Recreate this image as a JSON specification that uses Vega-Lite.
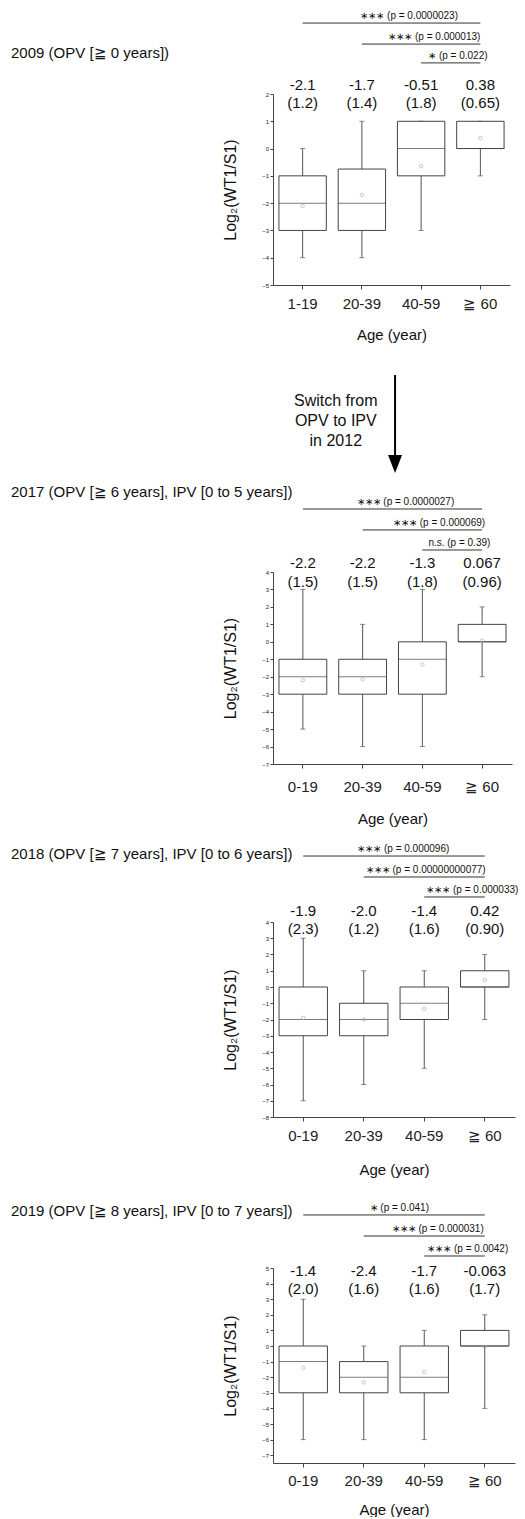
{
"$schema": "https://vega.github.io/schema/vega-lite/v6.json",
"background": "white",
"padding": {"left": 11, "top": 11, "right": 0, "bottom": 0},
"config": {
  "font": "Liberation Sans",
  "view": {"stroke": null},
  "axis": {"grid": false, "domainColor": "#444", "tickColor": "#444", "labelColor": "#222", "titleColor": "#111", "labelFont": "Liberation Sans", "titleFont": "Liberation Sans", "titleFontWeight": "normal"},
  "axisX": {"labelFontSize": 15, "tickSize": 4, "titleFontSize": 15, "labelAngle": 0},
  "axisY": {"labelFontSize": 6, "tickSize": 3, "labelPadding": 1.5, "titleFontSize": 16, "titlePadding": 23, "labelOverlap": false, "labelFlush": false},
  "title": {"anchor": "start", "frame": "group", "orient": "top", "offset": 0, "baseline": "middle", "fontSize": 15, "fontWeight": "normal", "font": "Liberation Sans", "color": "#111"}
},
"datasets": {
  "b09": [
    {"age": "1-19", "lower": -4, "q1": -3, "median": -2, "q3": -1, "upper": 0, "mean": -2.1, "mean_text": "-2.1", "sd_text": "(1.2)"},
    {"age": "20-39", "lower": -4, "q1": -3, "median": -2, "q3": -0.75, "upper": 1, "mean": -1.7, "mean_text": "-1.7", "sd_text": "(1.4)"},
    {"age": "40-59", "lower": -3, "q1": -1, "median": 0, "q3": 1, "upper": 1, "mean": -0.64, "mean_text": "-0.51", "sd_text": "(1.8)"},
    {"age": "≧ 60", "lower": -1, "q1": 0, "median": 0, "q3": 1, "upper": 1, "mean": 0.38, "mean_text": "0.38", "sd_text": "(0.65)"}
  ],
  "b17": [
    {"age": "0-19", "lower": -5, "q1": -3, "median": -2, "q3": -1, "upper": 3, "mean": -2.2, "mean_text": "-2.2", "sd_text": "(1.5)"},
    {"age": "20-39", "lower": -6, "q1": -3, "median": -2, "q3": -1, "upper": 1, "mean": -2.15, "mean_text": "-2.2", "sd_text": "(1.5)"},
    {"age": "40-59", "lower": -6, "q1": -3, "median": -1, "q3": 0, "upper": 3, "mean": -1.3, "mean_text": "-1.3", "sd_text": "(1.8)"},
    {"age": "≧ 60", "lower": -2, "q1": 0, "median": 0, "q3": 1, "upper": 2, "mean": 0.067, "mean_text": "0.067", "sd_text": "(0.96)"}
  ],
  "b18": [
    {"age": "0-19", "lower": -7, "q1": -3, "median": -2, "q3": 0, "upper": 3, "mean": -1.9, "mean_text": "-1.9", "sd_text": "(2.3)"},
    {"age": "20-39", "lower": -6, "q1": -3, "median": -2, "q3": -1, "upper": 1, "mean": -2.0, "mean_text": "-2.0", "sd_text": "(1.2)"},
    {"age": "40-59", "lower": -5, "q1": -2, "median": -1, "q3": 0, "upper": 1, "mean": -1.35, "mean_text": "-1.4", "sd_text": "(1.6)"},
    {"age": "≧ 60", "lower": -2, "q1": 0, "median": 0, "q3": 1, "upper": 2, "mean": 0.42, "mean_text": "0.42", "sd_text": "(0.90)"}
  ],
  "b19": [
    {"age": "0-19", "lower": -6, "q1": -3, "median": -1, "q3": 0, "upper": 3, "mean": -1.4, "mean_text": "-1.4", "sd_text": "(2.0)"},
    {"age": "20-39", "lower": -6, "q1": -3, "median": -2, "q3": -1, "upper": 0, "mean": -2.33, "mean_text": "-2.4", "sd_text": "(1.6)"},
    {"age": "40-59", "lower": -6, "q1": -3, "median": -2, "q3": 0, "upper": 1, "mean": -1.65, "mean_text": "-1.7", "sd_text": "(1.6)"},
    {"age": "≧ 60", "lower": -4, "q1": 0, "median": 0, "q3": 1, "upper": 2, "mean": -0.063, "mean_text": "-0.063", "sd_text": "(1.7)"}
  ],
  "r09": [
    {"age": "1-19", "to": "≧ 60", "level": 1, "label": "∗∗∗  (p = 0.0000023)"},
    {"age": "20-39", "to": "≧ 60", "level": 2, "label": "∗∗∗  (p = 0.000013)"},
    {"age": "40-59", "to": "≧ 60", "level": 3, "label": "∗ (p = 0.022)"}
  ],
  "r17": [
    {"age": "0-19", "to": "≧ 60", "level": 1, "label": "∗∗∗  (p = 0.0000027)"},
    {"age": "20-39", "to": "≧ 60", "level": 2, "label": "∗∗∗ (p = 0.000069)"},
    {"age": "40-59", "to": "≧ 60", "level": 3, "label": "n.s. (p = 0.39)"}
  ],
  "r18": [
    {"age": "0-19", "to": "≧ 60", "level": 1, "label": "∗∗∗  (p = 0.000096)"},
    {"age": "20-39", "to": "≧ 60", "level": 2, "label": "∗∗∗  (p = 0.00000000077)"},
    {"age": "40-59", "to": "≧ 60", "level": 3, "label": "∗∗∗ (p = 0.000033)"}
  ],
  "r19": [
    {"age": "0-19", "to": "≧ 60", "level": 1, "label": "∗  (p = 0.041)"},
    {"age": "20-39", "to": "≧ 60", "level": 2, "label": "∗∗∗  (p = 0.000031)"},
    {"age": "40-59", "to": "≧ 60", "level": 3, "label": "∗∗∗  (p = 0.0042)"}
  ],
  "one": [{}]
},
"vconcat": [
 {
  "spacing": 25,
  "vconcat": [
   {
    "spacing": 18,
    "vconcat": [
     {
      "spacing": 10,
      "vconcat": [
       {
        "width": 237, "height": 191,
        "title": {"text": "2009 (OPV [≧ 0 years])", "dx": -262, "dy": 54},
        "layer": [
         {"data": {"name": "b09"}, "mark": {"type": "rule", "color": "#555"},
          "encoding": {
            "x": {"field": "age", "type": "nominal", "scale": {"domain": ["1-19", "20-39", "40-59", "≧ 60"], "paddingInner": 0, "paddingOuter": 0}, "axis": {"title": "Age (year)", "labelPadding": 7.5, "titlePadding": 15.5}},
            "y": {"field": "lower", "type": "quantitative", "scale": {"domain": [-5, 2], "nice": false, "zero": false}, "axis": {"title": "Log₂(WT1/S1)", "values": [-5, -4, -3, -2, -1, 0, 1, 2], "tickCount": 30, "format": "d", "labelOverlap": false}},
            "y2": {"field": "upper"}}},
         {"data": {"name": "b09"}, "mark": {"type": "bar", "fill": "white", "stroke": "#444", "strokeWidth": 1, "width": {"band": 0.8}},
          "encoding": {
            "x": {"field": "age", "type": "nominal", "scale": {"domain": ["1-19", "20-39", "40-59", "≧ 60"], "paddingInner": 0, "paddingOuter": 0}},
            "y": {"field": "q1", "type": "quantitative", "scale": {"domain": [-5, 2], "nice": false, "zero": false}},
            "y2": {"field": "q3"}}},
         {"data": {"name": "b09"}, "mark": {"type": "tick", "color": "#444", "thickness": 1, "size": 48},
          "encoding": {
            "x": {"field": "age", "type": "nominal", "scale": {"domain": ["1-19", "20-39", "40-59", "≧ 60"], "paddingInner": 0, "paddingOuter": 0}},
            "y": {"field": "median", "type": "quantitative", "scale": {"domain": [-5, 2], "nice": false, "zero": false}}}},
         {"data": {"name": "b09"}, "mark": {"type": "tick", "color": "#555", "thickness": 1, "size": 5},
          "encoding": {
            "x": {"field": "age", "type": "nominal", "scale": {"domain": ["1-19", "20-39", "40-59", "≧ 60"], "paddingInner": 0, "paddingOuter": 0}},
            "y": {"field": "lower", "type": "quantitative", "scale": {"domain": [-5, 2], "nice": false, "zero": false}}}},
         {"data": {"name": "b09"}, "mark": {"type": "tick", "color": "#555", "thickness": 1, "size": 5},
          "encoding": {
            "x": {"field": "age", "type": "nominal", "scale": {"domain": ["1-19", "20-39", "40-59", "≧ 60"], "paddingInner": 0, "paddingOuter": 0}},
            "y": {"field": "upper", "type": "quantitative", "scale": {"domain": [-5, 2], "nice": false, "zero": false}}}},
         {"data": {"name": "b09"}, "mark": {"type": "point", "shape": "circle", "size": 12, "color": "#b0b0b0", "filled": false, "strokeWidth": 1},
          "encoding": {
            "x": {"field": "age", "type": "nominal", "scale": {"domain": ["1-19", "20-39", "40-59", "≧ 60"], "paddingInner": 0, "paddingOuter": 0}},
            "y": {"field": "mean", "type": "quantitative", "scale": {"domain": [-5, 2], "nice": false, "zero": false}}}},
         {"data": {"name": "b09"}, "mark": {"type": "text", "fontSize": 15, "baseline": "middle", "color": "#111"},
          "encoding": {
            "x": {"field": "age", "type": "nominal", "scale": {"domain": ["1-19", "20-39", "40-59", "≧ 60"], "paddingInner": 0, "paddingOuter": 0}},
            "y": {"datum": 2.33, "type": "quantitative", "scale": {"domain": [-5, 2], "nice": false, "zero": false}},
            "text": {"field": "mean_text"}}},
         {"data": {"name": "b09"}, "mark": {"type": "text", "fontSize": 15, "baseline": "middle", "color": "#111"},
          "encoding": {
            "x": {"field": "age", "type": "nominal", "scale": {"domain": ["1-19", "20-39", "40-59", "≧ 60"], "paddingInner": 0, "paddingOuter": 0}},
            "y": {"datum": 1.67, "type": "quantitative", "scale": {"domain": [-5, 2], "nice": false, "zero": false}},
            "text": {"field": "sd_text"}}},
         {"data": {"name": "r09"}, "transform": [{"filter": "datum.level == 1"}], "mark": {"type": "rule", "color": "#333"},
          "encoding": {
            "x": {"field": "age", "type": "nominal", "scale": {"domain": ["1-19", "20-39", "40-59", "≧ 60"], "paddingInner": 0, "paddingOuter": 0}},
            "x2": {"field": "to"},
            "y": {"datum": 4.60, "type": "quantitative", "scale": {"domain": [-5, 2], "nice": false, "zero": false}}}},
         {"data": {"name": "r09"}, "transform": [{"filter": "datum.level == 2"}], "mark": {"type": "rule", "color": "#333"},
          "encoding": {
            "x": {"field": "age", "type": "nominal", "scale": {"domain": ["1-19", "20-39", "40-59", "≧ 60"], "paddingInner": 0, "paddingOuter": 0}},
            "x2": {"field": "to"},
            "y": {"datum": 3.83, "type": "quantitative", "scale": {"domain": [-5, 2], "nice": false, "zero": false}}}},
         {"data": {"name": "r09"}, "transform": [{"filter": "datum.level == 3"}], "mark": {"type": "rule", "color": "#333"},
          "encoding": {
            "x": {"field": "age", "type": "nominal", "scale": {"domain": ["1-19", "20-39", "40-59", "≧ 60"], "paddingInner": 0, "paddingOuter": 0}},
            "x2": {"field": "to"},
            "y": {"datum": 3.14, "type": "quantitative", "scale": {"domain": [-5, 2], "nice": false, "zero": false}}}},
         {"data": {"name": "r09"}, "transform": [{"filter": "datum.level == 1"}], "mark": {"type": "text", "fontSize": 10, "align": "center", "baseline": "alphabetic", "dy": -4, "dx": -12, "color": "#111"},
          "encoding": {
            "x": {"datum": "40-59", "type": "nominal", "scale": {"domain": ["1-19", "20-39", "40-59", "≧ 60"], "paddingInner": 0, "paddingOuter": 0}},
            "y": {"datum": 4.60, "type": "quantitative", "scale": {"domain": [-5, 2], "nice": false, "zero": false}},
            "text": {"field": "label"}}},
         {"data": {"name": "r09"}, "transform": [{"filter": "datum.level == 2"}], "mark": {"type": "text", "fontSize": 10, "align": "right", "baseline": "alphabetic", "dy": -4, "dx": 0, "color": "#111"},
          "encoding": {
            "x": {"field": "to", "type": "nominal", "scale": {"domain": ["1-19", "20-39", "40-59", "≧ 60"], "paddingInner": 0, "paddingOuter": 0}},
            "y": {"datum": 3.83, "type": "quantitative", "scale": {"domain": [-5, 2], "nice": false, "zero": false}},
            "text": {"field": "label"}}},
         {"data": {"name": "r09"}, "transform": [{"filter": "datum.level == 3"}], "mark": {"type": "text", "fontSize": 10, "align": "left", "baseline": "alphabetic", "dy": -4, "dx": 7, "color": "#111"},
          "encoding": {
            "x": {"field": "age", "type": "nominal", "scale": {"domain": ["1-19", "20-39", "40-59", "≧ 60"], "paddingInner": 0, "paddingOuter": 0}},
            "y": {"datum": 3.14, "type": "quantitative", "scale": {"domain": [-5, 2], "nice": false, "zero": false}},
            "text": {"field": "label"}}},
         {"data": {"name": "one"}, "mark": {"type": "rule", "color": "#000", "strokeWidth": 2},
          "encoding": {
            "x": {"datum": "40-59", "type": "nominal", "bandPosition": 0.06, "scale": {"domain": ["1-19", "20-39", "40-59", "≧ 60"], "paddingInner": 0, "paddingOuter": 0}},
            "y": {"datum": -8.30, "type": "quantitative", "scale": {"domain": [-5, 2], "nice": false, "zero": false}},
            "y2": {"datum": -11.3}}},
         {"data": {"name": "one"}, "mark": {"type": "point", "shape": "M-1,-1.29L1,-1.29L0,1.29Z", "filled": true, "color": "#000", "opacity": 1, "size": 196},
          "encoding": {
            "x": {"datum": "40-59", "type": "nominal", "bandPosition": 0.06, "scale": {"domain": ["1-19", "20-39", "40-59", "≧ 60"], "paddingInner": 0, "paddingOuter": 0}},
            "y": {"datum": -11.56, "type": "quantitative", "scale": {"domain": [-5, 2], "nice": false, "zero": false}}}},
         {"data": {"name": "one"}, "mark": {"type": "text", "text": ["Switch from", "OPV to IPV", "in 2012"], "fontSize": 16, "lineHeight": 20, "align": "center", "baseline": "middle", "color": "#111"},
          "encoding": {
            "x": {"datum": "20-39", "type": "nominal", "bandPosition": 0.06, "scale": {"domain": ["1-19", "20-39", "40-59", "≧ 60"], "paddingInner": 0, "paddingOuter": 0}},
            "y": {"datum": -9.25, "type": "quantitative", "scale": {"domain": [-5, 2], "nice": false, "zero": false}}}}
        ]
       },
       {
        "width": 239, "height": 192,
        "title": {"text": "2017 (OPV [≧ 6 years], IPV [0 to 5 years])", "dx": -262, "dy": 7},
        "layer": [
         {"data": {"name": "b17"}, "mark": {"type": "rule", "color": "#555"},
          "encoding": {
            "x": {"field": "age", "type": "nominal", "scale": {"domain": ["0-19", "20-39", "40-59", "≧ 60"], "paddingInner": 0, "paddingOuter": 0}, "axis": {"title": "Age (year)", "labelPadding": 11.5, "titlePadding": 16.5}},
            "y": {"field": "lower", "type": "quantitative", "scale": {"domain": [-7, 4], "nice": false, "zero": false}, "axis": {"title": "Log₂(WT1/S1)", "values": [-7, -6, -5, -4, -3, -2, -1, 0, 1, 2, 3, 4], "tickCount": 30, "format": "d", "labelOverlap": false}},
            "y2": {"field": "upper"}}},
         {"data": {"name": "b17"}, "mark": {"type": "bar", "fill": "white", "stroke": "#444", "strokeWidth": 1, "width": {"band": 0.8}},
          "encoding": {
            "x": {"field": "age", "type": "nominal", "scale": {"domain": ["0-19", "20-39", "40-59", "≧ 60"], "paddingInner": 0, "paddingOuter": 0}},
            "y": {"field": "q1", "type": "quantitative", "scale": {"domain": [-7, 4], "nice": false, "zero": false}},
            "y2": {"field": "q3"}}},
         {"data": {"name": "b17"}, "mark": {"type": "tick", "color": "#444", "thickness": 1, "size": 48},
          "encoding": {
            "x": {"field": "age", "type": "nominal", "scale": {"domain": ["0-19", "20-39", "40-59", "≧ 60"], "paddingInner": 0, "paddingOuter": 0}},
            "y": {"field": "median", "type": "quantitative", "scale": {"domain": [-7, 4], "nice": false, "zero": false}}}},
         {"data": {"name": "b17"}, "mark": {"type": "tick", "color": "#555", "thickness": 1, "size": 5},
          "encoding": {
            "x": {"field": "age", "type": "nominal", "scale": {"domain": ["0-19", "20-39", "40-59", "≧ 60"], "paddingInner": 0, "paddingOuter": 0}},
            "y": {"field": "lower", "type": "quantitative", "scale": {"domain": [-7, 4], "nice": false, "zero": false}}}},
         {"data": {"name": "b17"}, "mark": {"type": "tick", "color": "#555", "thickness": 1, "size": 5},
          "encoding": {
            "x": {"field": "age", "type": "nominal", "scale": {"domain": ["0-19", "20-39", "40-59", "≧ 60"], "paddingInner": 0, "paddingOuter": 0}},
            "y": {"field": "upper", "type": "quantitative", "scale": {"domain": [-7, 4], "nice": false, "zero": false}}}},
         {"data": {"name": "b17"}, "mark": {"type": "point", "shape": "circle", "size": 12, "color": "#b0b0b0", "filled": false, "strokeWidth": 1},
          "encoding": {
            "x": {"field": "age", "type": "nominal", "scale": {"domain": ["0-19", "20-39", "40-59", "≧ 60"], "paddingInner": 0, "paddingOuter": 0}},
            "y": {"field": "mean", "type": "quantitative", "scale": {"domain": [-7, 4], "nice": false, "zero": false}}}},
         {"data": {"name": "b17"}, "mark": {"type": "text", "fontSize": 15, "baseline": "middle", "color": "#111"},
          "encoding": {
            "x": {"field": "age", "type": "nominal", "scale": {"domain": ["0-19", "20-39", "40-59", "≧ 60"], "paddingInner": 0, "paddingOuter": 0}},
            "y": {"datum": 4.5, "type": "quantitative", "scale": {"domain": [-7, 4], "nice": false, "zero": false}},
            "text": {"field": "mean_text"}}},
         {"data": {"name": "b17"}, "mark": {"type": "text", "fontSize": 15, "baseline": "middle", "color": "#111"},
          "encoding": {
            "x": {"field": "age", "type": "nominal", "scale": {"domain": ["0-19", "20-39", "40-59", "≧ 60"], "paddingInner": 0, "paddingOuter": 0}},
            "y": {"datum": 3.43, "type": "quantitative", "scale": {"domain": [-7, 4], "nice": false, "zero": false}},
            "text": {"field": "sd_text"}}},
         {"data": {"name": "r17"}, "transform": [{"filter": "datum.level == 1"}], "mark": {"type": "rule", "color": "#333"},
          "encoding": {
            "x": {"field": "age", "type": "nominal", "scale": {"domain": ["0-19", "20-39", "40-59", "≧ 60"], "paddingInner": 0, "paddingOuter": 0}},
            "x2": {"field": "to"},
            "y": {"datum": 7.61, "type": "quantitative", "scale": {"domain": [-7, 4], "nice": false, "zero": false}}}},
         {"data": {"name": "r17"}, "transform": [{"filter": "datum.level == 2"}], "mark": {"type": "rule", "color": "#333"},
          "encoding": {
            "x": {"field": "age", "type": "nominal", "scale": {"domain": ["0-19", "20-39", "40-59", "≧ 60"], "paddingInner": 0, "paddingOuter": 0}},
            "x2": {"field": "to"},
            "y": {"datum": 6.41, "type": "quantitative", "scale": {"domain": [-7, 4], "nice": false, "zero": false}}}},
         {"data": {"name": "r17"}, "transform": [{"filter": "datum.level == 3"}], "mark": {"type": "rule", "color": "#333"},
          "encoding": {
            "x": {"field": "age", "type": "nominal", "scale": {"domain": ["0-19", "20-39", "40-59", "≧ 60"], "paddingInner": 0, "paddingOuter": 0}},
            "x2": {"field": "to"},
            "y": {"datum": 5.26, "type": "quantitative", "scale": {"domain": [-7, 4], "nice": false, "zero": false}}}},
         {"data": {"name": "r17"}, "transform": [{"filter": "datum.level == 1"}], "mark": {"type": "text", "fontSize": 10, "align": "center", "baseline": "alphabetic", "dy": -4, "dx": -17, "color": "#111"},
          "encoding": {
            "x": {"datum": "40-59", "type": "nominal", "scale": {"domain": ["0-19", "20-39", "40-59", "≧ 60"], "paddingInner": 0, "paddingOuter": 0}},
            "y": {"datum": 7.61, "type": "quantitative", "scale": {"domain": [-7, 4], "nice": false, "zero": false}},
            "text": {"field": "label"}}},
         {"data": {"name": "r17"}, "transform": [{"filter": "datum.level == 2"}], "mark": {"type": "text", "fontSize": 10, "align": "right", "baseline": "alphabetic", "dy": -4, "dx": 3, "color": "#111"},
          "encoding": {
            "x": {"field": "to", "type": "nominal", "scale": {"domain": ["0-19", "20-39", "40-59", "≧ 60"], "paddingInner": 0, "paddingOuter": 0}},
            "y": {"datum": 6.41, "type": "quantitative", "scale": {"domain": [-7, 4], "nice": false, "zero": false}},
            "text": {"field": "label"}}},
         {"data": {"name": "r17"}, "transform": [{"filter": "datum.level == 3"}], "mark": {"type": "text", "fontSize": 10, "align": "left", "baseline": "alphabetic", "dy": -4, "dx": 6, "color": "#111"},
          "encoding": {
            "x": {"field": "age", "type": "nominal", "scale": {"domain": ["0-19", "20-39", "40-59", "≧ 60"], "paddingInner": 0, "paddingOuter": 0}},
            "y": {"datum": 5.26, "type": "quantitative", "scale": {"domain": [-7, 4], "nice": false, "zero": false}},
            "text": {"field": "label"}}}
        ]
       }
      ]
     },
     {
      "width": 242, "height": 195,
      "title": {"text": "2018 (OPV [≧ 7 years], IPV [0 to 6 years])", "dx": -262, "dy": 22},
      "layer": [
       {"data": {"name": "b18"}, "mark": {"type": "rule", "color": "#555"},
        "encoding": {
          "x": {"field": "age", "type": "nominal", "scale": {"domain": ["0-19", "20-39", "40-59", "≧ 60"], "paddingInner": 0, "paddingOuter": 0}, "axis": {"title": "Age (year)", "labelPadding": 7.5, "titlePadding": 18.5}},
          "y": {"field": "lower", "type": "quantitative", "scale": {"domain": [-8, 4], "nice": false, "zero": false}, "axis": {"title": "Log₂(WT1/S1)", "values": [-8, -7, -6, -5, -4, -3, -2, -1, 0, 1, 2, 3, 4], "tickCount": 30, "format": "d", "labelOverlap": false}},
          "y2": {"field": "upper"}}},
       {"data": {"name": "b18"}, "mark": {"type": "bar", "fill": "white", "stroke": "#444", "strokeWidth": 1, "width": {"band": 0.8}},
        "encoding": {
          "x": {"field": "age", "type": "nominal", "scale": {"domain": ["0-19", "20-39", "40-59", "≧ 60"], "paddingInner": 0, "paddingOuter": 0}},
          "y": {"field": "q1", "type": "quantitative", "scale": {"domain": [-8, 4], "nice": false, "zero": false}},
          "y2": {"field": "q3"}}},
       {"data": {"name": "b18"}, "mark": {"type": "tick", "color": "#444", "thickness": 1, "size": 48},
        "encoding": {
          "x": {"field": "age", "type": "nominal", "scale": {"domain": ["0-19", "20-39", "40-59", "≧ 60"], "paddingInner": 0, "paddingOuter": 0}},
          "y": {"field": "median", "type": "quantitative", "scale": {"domain": [-8, 4], "nice": false, "zero": false}}}},
       {"data": {"name": "b18"}, "mark": {"type": "tick", "color": "#555", "thickness": 1, "size": 5},
        "encoding": {
          "x": {"field": "age", "type": "nominal", "scale": {"domain": ["0-19", "20-39", "40-59", "≧ 60"], "paddingInner": 0, "paddingOuter": 0}},
          "y": {"field": "lower", "type": "quantitative", "scale": {"domain": [-8, 4], "nice": false, "zero": false}}}},
       {"data": {"name": "b18"}, "mark": {"type": "tick", "color": "#555", "thickness": 1, "size": 5},
        "encoding": {
          "x": {"field": "age", "type": "nominal", "scale": {"domain": ["0-19", "20-39", "40-59", "≧ 60"], "paddingInner": 0, "paddingOuter": 0}},
          "y": {"field": "upper", "type": "quantitative", "scale": {"domain": [-8, 4], "nice": false, "zero": false}}}},
       {"data": {"name": "b18"}, "mark": {"type": "point", "shape": "circle", "size": 12, "color": "#b0b0b0", "filled": false, "strokeWidth": 1},
        "encoding": {
          "x": {"field": "age", "type": "nominal", "scale": {"domain": ["0-19", "20-39", "40-59", "≧ 60"], "paddingInner": 0, "paddingOuter": 0}},
          "y": {"field": "mean", "type": "quantitative", "scale": {"domain": [-8, 4], "nice": false, "zero": false}}}},
       {"data": {"name": "b18"}, "mark": {"type": "text", "fontSize": 15, "baseline": "middle", "color": "#111"},
        "encoding": {
          "x": {"field": "age", "type": "nominal", "scale": {"domain": ["0-19", "20-39", "40-59", "≧ 60"], "paddingInner": 0, "paddingOuter": 0}},
          "y": {"datum": 4.68, "type": "quantitative", "scale": {"domain": [-8, 4], "nice": false, "zero": false}},
          "text": {"field": "mean_text"}}},
       {"data": {"name": "b18"}, "mark": {"type": "text", "fontSize": 15, "baseline": "middle", "color": "#111"},
        "encoding": {
          "x": {"field": "age", "type": "nominal", "scale": {"domain": ["0-19", "20-39", "40-59", "≧ 60"], "paddingInner": 0, "paddingOuter": 0}},
          "y": {"datum": 3.57, "type": "quantitative", "scale": {"domain": [-8, 4], "nice": false, "zero": false}},
          "text": {"field": "sd_text"}}},
       {"data": {"name": "r18"}, "transform": [{"filter": "datum.level == 1"}], "mark": {"type": "rule", "color": "#333"},
        "encoding": {
          "x": {"field": "age", "type": "nominal", "scale": {"domain": ["0-19", "20-39", "40-59", "≧ 60"], "paddingInner": 0, "paddingOuter": 0}},
          "x2": {"field": "to"},
          "y": {"datum": 8.06, "type": "quantitative", "scale": {"domain": [-8, 4], "nice": false, "zero": false}}}},
       {"data": {"name": "r18"}, "transform": [{"filter": "datum.level == 2"}], "mark": {"type": "rule", "color": "#333"},
        "encoding": {
          "x": {"field": "age", "type": "nominal", "scale": {"domain": ["0-19", "20-39", "40-59", "≧ 60"], "paddingInner": 0, "paddingOuter": 0}},
          "x2": {"field": "to"},
          "y": {"datum": 6.77, "type": "quantitative", "scale": {"domain": [-8, 4], "nice": false, "zero": false}}}},
       {"data": {"name": "r18"}, "transform": [{"filter": "datum.level == 3"}], "mark": {"type": "rule", "color": "#333"},
        "encoding": {
          "x": {"field": "age", "type": "nominal", "scale": {"domain": ["0-19", "20-39", "40-59", "≧ 60"], "paddingInner": 0, "paddingOuter": 0}},
          "x2": {"field": "to"},
          "y": {"datum": 5.54, "type": "quantitative", "scale": {"domain": [-8, 4], "nice": false, "zero": false}}}},
       {"data": {"name": "r18"}, "transform": [{"filter": "datum.level == 1"}], "mark": {"type": "text", "fontSize": 10, "align": "center", "baseline": "alphabetic", "dy": -4, "dx": -21, "color": "#111"},
        "encoding": {
          "x": {"datum": "40-59", "type": "nominal", "scale": {"domain": ["0-19", "20-39", "40-59", "≧ 60"], "paddingInner": 0, "paddingOuter": 0}},
          "y": {"datum": 8.06, "type": "quantitative", "scale": {"domain": [-8, 4], "nice": false, "zero": false}},
          "text": {"field": "label"}}},
       {"data": {"name": "r18"}, "transform": [{"filter": "datum.level == 2"}], "mark": {"type": "text", "fontSize": 10, "align": "left", "baseline": "alphabetic", "dy": -4, "dx": 2, "color": "#111"},
        "encoding": {
          "x": {"field": "age", "type": "nominal", "scale": {"domain": ["0-19", "20-39", "40-59", "≧ 60"], "paddingInner": 0, "paddingOuter": 0}},
          "y": {"datum": 6.77, "type": "quantitative", "scale": {"domain": [-8, 4], "nice": false, "zero": false}},
          "text": {"field": "label"}}},
       {"data": {"name": "r18"}, "transform": [{"filter": "datum.level == 3"}], "mark": {"type": "text", "fontSize": 10, "align": "left", "baseline": "alphabetic", "dy": -4, "dx": 2, "color": "#111"},
        "encoding": {
          "x": {"field": "age", "type": "nominal", "scale": {"domain": ["0-19", "20-39", "40-59", "≧ 60"], "paddingInner": 0, "paddingOuter": 0}},
          "y": {"datum": 5.54, "type": "quantitative", "scale": {"domain": [-8, 4], "nice": false, "zero": false}},
          "text": {"field": "label"}}}
      ]
     }
    ]
   },
   {
    "width": 242, "height": 195,
    "title": {"text": "2019 (OPV [≧ 8 years], IPV [0 to 7 years])", "dx": -262, "dy": 20},
    "layer": [
     {"data": {"name": "b19"}, "mark": {"type": "rule", "color": "#555"},
      "encoding": {
        "x": {"field": "age", "type": "nominal", "scale": {"domain": ["0-19", "20-39", "40-59", "≧ 60"], "paddingInner": 0, "paddingOuter": 0}, "axis": {"title": "Age (year)", "labelPadding": 6.5, "titlePadding": 13.5}},
        "y": {"field": "lower", "type": "quantitative", "scale": {"domain": [-7.5, 5], "nice": false, "zero": false}, "axis": {"title": "Log₂(WT1/S1)", "values": [-7, -6, -5, -4, -3, -2, -1, 0, 1, 2, 3, 4, 5], "tickCount": 30, "format": "d", "labelOverlap": false}},
        "y2": {"field": "upper"}}},
     {"data": {"name": "b19"}, "mark": {"type": "bar", "fill": "white", "stroke": "#444", "strokeWidth": 1, "width": {"band": 0.8}},
      "encoding": {
        "x": {"field": "age", "type": "nominal", "scale": {"domain": ["0-19", "20-39", "40-59", "≧ 60"], "paddingInner": 0, "paddingOuter": 0}},
        "y": {"field": "q1", "type": "quantitative", "scale": {"domain": [-7.5, 5], "nice": false, "zero": false}},
        "y2": {"field": "q3"}}},
     {"data": {"name": "b19"}, "mark": {"type": "tick", "color": "#444", "thickness": 1, "size": 48},
      "encoding": {
        "x": {"field": "age", "type": "nominal", "scale": {"domain": ["0-19", "20-39", "40-59", "≧ 60"], "paddingInner": 0, "paddingOuter": 0}},
        "y": {"field": "median", "type": "quantitative", "scale": {"domain": [-7.5, 5], "nice": false, "zero": false}}}},
     {"data": {"name": "b19"}, "mark": {"type": "tick", "color": "#555", "thickness": 1, "size": 5},
      "encoding": {
        "x": {"field": "age", "type": "nominal", "scale": {"domain": ["0-19", "20-39", "40-59", "≧ 60"], "paddingInner": 0, "paddingOuter": 0}},
        "y": {"field": "lower", "type": "quantitative", "scale": {"domain": [-7.5, 5], "nice": false, "zero": false}}}},
     {"data": {"name": "b19"}, "mark": {"type": "tick", "color": "#555", "thickness": 1, "size": 5},
      "encoding": {
        "x": {"field": "age", "type": "nominal", "scale": {"domain": ["0-19", "20-39", "40-59", "≧ 60"], "paddingInner": 0, "paddingOuter": 0}},
        "y": {"field": "upper", "type": "quantitative", "scale": {"domain": [-7.5, 5], "nice": false, "zero": false}}}},
     {"data": {"name": "b19"}, "mark": {"type": "point", "shape": "circle", "size": 12, "color": "#b0b0b0", "filled": false, "strokeWidth": 1},
      "encoding": {
        "x": {"field": "age", "type": "nominal", "scale": {"domain": ["0-19", "20-39", "40-59", "≧ 60"], "paddingInner": 0, "paddingOuter": 0}},
        "y": {"field": "mean", "type": "quantitative", "scale": {"domain": [-7.5, 5], "nice": false, "zero": false}}}},
     {"data": {"name": "b19"}, "mark": {"type": "text", "fontSize": 15, "baseline": "middle", "color": "#111"},
      "encoding": {
        "x": {"field": "age", "type": "nominal", "scale": {"domain": ["0-19", "20-39", "40-59", "≧ 60"], "paddingInner": 0, "paddingOuter": 0}},
        "y": {"datum": 4.81, "type": "quantitative", "scale": {"domain": [-7.5, 5], "nice": false, "zero": false}},
        "text": {"field": "mean_text"}}},
     {"data": {"name": "b19"}, "mark": {"type": "text", "fontSize": 15, "baseline": "middle", "color": "#111"},
      "encoding": {
        "x": {"field": "age", "type": "nominal", "scale": {"domain": ["0-19", "20-39", "40-59", "≧ 60"], "paddingInner": 0, "paddingOuter": 0}},
        "y": {"datum": 3.65, "type": "quantitative", "scale": {"domain": [-7.5, 5], "nice": false, "zero": false}},
        "text": {"field": "sd_text"}}},
     {"data": {"name": "r19"}, "transform": [{"filter": "datum.level == 1"}], "mark": {"type": "rule", "color": "#333"},
      "encoding": {
        "x": {"field": "age", "type": "nominal", "scale": {"domain": ["0-19", "20-39", "40-59", "≧ 60"], "paddingInner": 0, "paddingOuter": 0}},
        "x2": {"field": "to"},
        "y": {"datum": 8.40, "type": "quantitative", "scale": {"domain": [-7.5, 5], "nice": false, "zero": false}}}},
     {"data": {"name": "r19"}, "transform": [{"filter": "datum.level == 2"}], "mark": {"type": "rule", "color": "#333"},
      "encoding": {
        "x": {"field": "age", "type": "nominal", "scale": {"domain": ["0-19", "20-39", "40-59", "≧ 60"], "paddingInner": 0, "paddingOuter": 0}},
        "x2": {"field": "to"},
        "y": {"datum": 7.05, "type": "quantitative", "scale": {"domain": [-7.5, 5], "nice": false, "zero": false}}}},
     {"data": {"name": "r19"}, "transform": [{"filter": "datum.level == 3"}], "mark": {"type": "rule", "color": "#333"},
      "encoding": {
        "x": {"field": "age", "type": "nominal", "scale": {"domain": ["0-19", "20-39", "40-59", "≧ 60"], "paddingInner": 0, "paddingOuter": 0}},
        "x2": {"field": "to"},
        "y": {"datum": 5.77, "type": "quantitative", "scale": {"domain": [-7.5, 5], "nice": false, "zero": false}}}},
     {"data": {"name": "r19"}, "transform": [{"filter": "datum.level == 1"}], "mark": {"type": "text", "fontSize": 10, "align": "center", "baseline": "alphabetic", "dy": -4, "dx": -25, "color": "#111"},
      "encoding": {
        "x": {"datum": "40-59", "type": "nominal", "scale": {"domain": ["0-19", "20-39", "40-59", "≧ 60"], "paddingInner": 0, "paddingOuter": 0}},
        "y": {"datum": 8.40, "type": "quantitative", "scale": {"domain": [-7.5, 5], "nice": false, "zero": false}},
        "text": {"field": "label"}}},
     {"data": {"name": "r19"}, "transform": [{"filter": "datum.level == 2"}], "mark": {"type": "text", "fontSize": 10, "align": "right", "baseline": "alphabetic", "dy": -4, "dx": -1, "color": "#111"},
      "encoding": {
        "x": {"field": "to", "type": "nominal", "scale": {"domain": ["0-19", "20-39", "40-59", "≧ 60"], "paddingInner": 0, "paddingOuter": 0}},
        "y": {"datum": 7.05, "type": "quantitative", "scale": {"domain": [-7.5, 5], "nice": false, "zero": false}},
        "text": {"field": "label"}}},
     {"data": {"name": "r19"}, "transform": [{"filter": "datum.level == 3"}], "mark": {"type": "text", "fontSize": 10, "align": "left", "baseline": "alphabetic", "dy": -4, "dx": 3, "color": "#111"},
      "encoding": {
        "x": {"field": "age", "type": "nominal", "scale": {"domain": ["0-19", "20-39", "40-59", "≧ 60"], "paddingInner": 0, "paddingOuter": 0}},
        "y": {"datum": 5.77, "type": "quantitative", "scale": {"domain": [-7.5, 5], "nice": false, "zero": false}},
        "text": {"field": "label"}}}
    ]
   }
  ]
 }
]
}
